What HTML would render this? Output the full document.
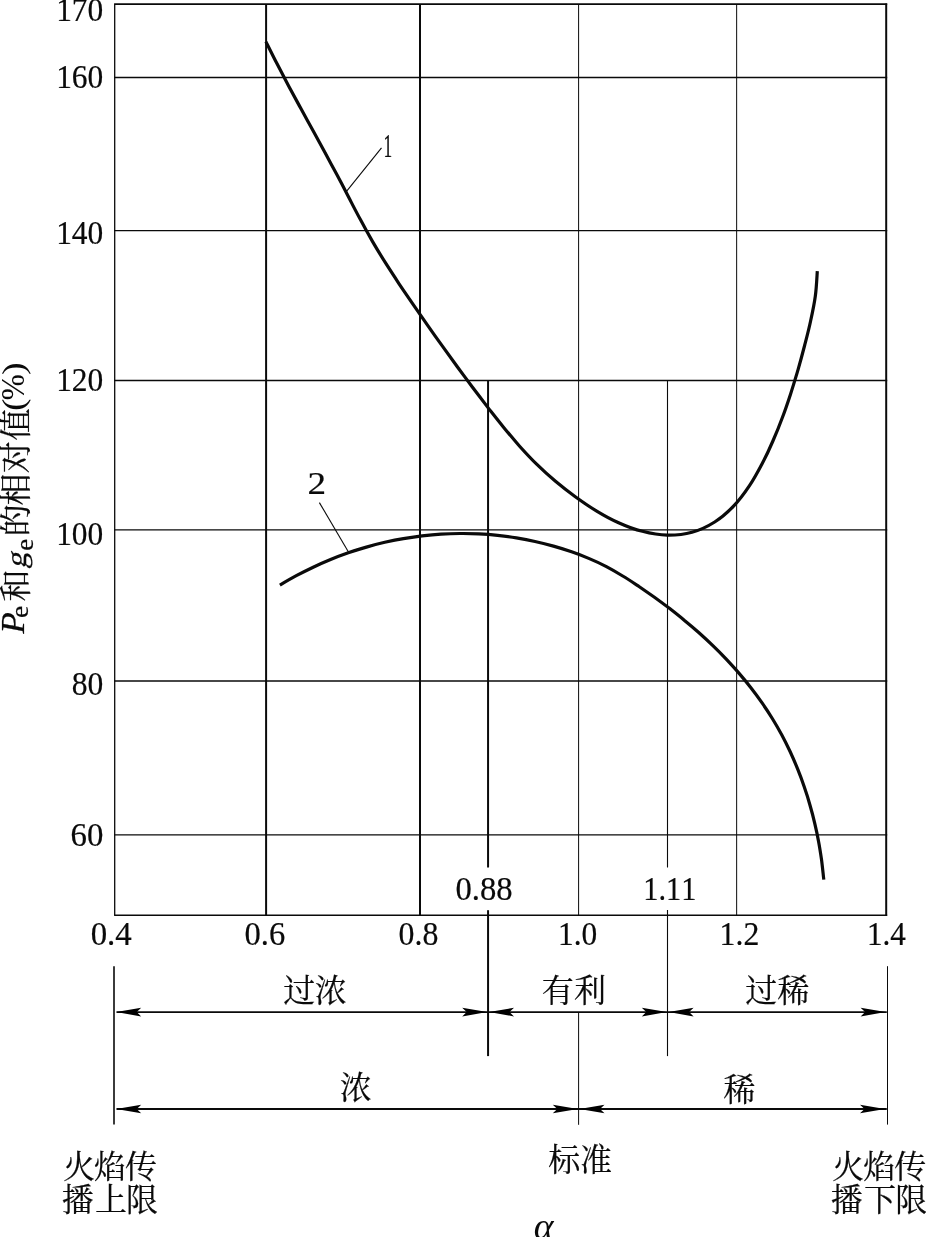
<!DOCTYPE html>
<html lang="zh-CN">
<head>
<meta charset="utf-8">
<title>Pe 和 ge 的相对值 — α</title>
<style>
html,body{margin:0;padding:0;background:#fff;}
body{width:926px;height:1237px;overflow:hidden;font-family:"Liberation Serif",serif;}
svg{display:block;position:absolute;left:0;top:0;will-change:transform;}
svg text{font-family:"Liberation Serif",serif;fill:#0a0a0a;font-kerning:none;stroke:#0a0a0a;stroke-width:0.22px;}
svg .ln path{stroke:#0a0a0a;fill:none;stroke-linecap:butt;}
svg text.ns{stroke-width:0;}
svg .cjk text{font-family:"Liberation Serif","Noto Serif CJK SC",serif;font-size:32px;fill:#0a0a0a;}
</style>
</head>
<body>
<svg width="926" height="1237" viewBox="0 0 926 1237">
<g class="ln">
<path d="M114.10 4.20L887.20 4.20" stroke-width="1.8"/>
<path d="M114.10 77.60L887.20 77.60" stroke-width="1.5"/>
<path d="M114.10 230.60L887.20 230.60" stroke-width="1.4"/>
<path d="M114.10 380.50L887.20 380.50" stroke-width="1.3"/>
<path d="M114.10 529.90L887.20 529.90" stroke-width="1.4"/>
<path d="M114.10 681.00L887.20 681.00" stroke-width="1.3"/>
<path d="M114.10 834.90L887.20 834.90" stroke-width="1.4"/>
<path d="M114.10 915.20L887.20 915.20" stroke-width="1.5"/>
<path d="M114.70 4.20L114.70 915.20" stroke-width="1.3"/>
<path d="M266.10 4.20L266.10 915.20" stroke-width="2.0"/>
<path d="M420.00 4.20L420.00 915.20" stroke-width="2.0"/>
<path d="M578.60 4.20L578.60 915.20" stroke-width="1.0"/>
<path d="M736.65 4.20L736.65 915.20" stroke-width="1.0"/>
<path d="M886.20 3.40L886.20 915.80" stroke-width="2.0"/>
<path d="M488.06 380.50L488.06 867.60" stroke-width="2.0"/>
<path d="M488.06 910.20L488.06 1056.10" stroke-width="2.0"/>
<path d="M667.50 380.50L667.50 867.60" stroke-width="1.1"/>
<path d="M667.50 910.00L667.50 1056.10" stroke-width="1.1"/>
<path d="M578.60 1012.30L578.60 1124.80" stroke-width="1.0"/>
<path d="M114.00 966.20L114.00 1124.50" stroke-width="1.6"/>
<path d="M887.50 966.20L887.50 1124.60" stroke-width="1.0"/>
<path d="M116.50 1012.10L886.80 1012.10" stroke-width="1.7"/>
<path d="M116.50 1109.00L886.80 1109.00" stroke-width="2.0"/>
<path d="M346.30 191.70L381.50 147.90" stroke-width="1.1"/>
<path d="M348.60 552.30L319.40 502.60" stroke-width="1.1"/>
</g>
<path d="M116.20 1012.10L141.20 1007.80L136.70 1012.10L141.20 1016.40Z" fill="#000" stroke="none"/>
<path d="M487.20 1012.10L462.20 1007.80L466.70 1012.10L462.20 1016.40Z" fill="#000" stroke="none"/>
<path d="M489.00 1012.10L514.00 1007.80L509.50 1012.10L514.00 1016.40Z" fill="#000" stroke="none"/>
<path d="M666.80 1012.10L641.80 1007.80L646.30 1012.10L641.80 1016.40Z" fill="#000" stroke="none"/>
<path d="M668.60 1012.10L693.60 1007.80L689.10 1012.10L693.60 1016.40Z" fill="#000" stroke="none"/>
<path d="M885.60 1012.10L860.60 1007.80L865.10 1012.10L860.60 1016.40Z" fill="#000" stroke="none"/>
<path d="M116.20 1109.00L141.20 1104.70L136.70 1109.00L141.20 1113.30Z" fill="#000" stroke="none"/>
<path d="M577.80 1109.00L552.80 1104.70L557.30 1109.00L552.80 1113.30Z" fill="#000" stroke="none"/>
<path d="M579.50 1109.00L604.50 1104.70L600.00 1109.00L604.50 1113.30Z" fill="#000" stroke="none"/>
<path d="M885.00 1109.00L860.00 1104.70L864.50 1109.00L860.00 1113.30Z" fill="#000" stroke="none"/>
<g class="ln">
<path d="M265.9 41.6C267.8 45.4 273.4 56.7 277.2 64.1C281.1 71.6 285.0 79.0 288.9 86.4C292.9 93.8 296.9 101.2 300.9 108.6C305.0 116.0 309.0 123.3 313.1 130.7C317.1 138.0 321.1 145.4 325.1 152.8C329.1 160.2 333.1 167.6 337.1 175.0C341.0 182.4 344.9 189.9 348.7 197.3C352.6 204.8 356.4 212.3 360.4 219.6C364.3 227.0 368.4 234.4 372.6 241.6C376.8 248.9 381.2 256.0 385.7 263.2C390.2 270.3 394.8 277.3 399.4 284.3C404.1 291.3 408.8 298.2 413.6 305.2C418.4 312.1 423.2 319.0 428.0 325.8C432.8 332.7 437.7 339.6 442.6 346.4C447.5 353.2 452.4 360.0 457.3 366.8C462.3 373.5 467.3 380.3 472.3 387.0C477.4 393.7 482.5 400.4 487.6 407.1C492.8 413.7 498.0 420.4 503.3 426.9C508.6 433.4 514.0 439.9 519.6 446.2C525.2 452.4 530.9 458.6 536.9 464.4C542.9 470.3 549.1 475.9 555.5 481.3C561.9 486.7 568.5 491.8 575.3 496.7C582.1 501.6 589.1 506.5 596.3 510.8C603.5 515.2 610.9 519.3 618.6 522.7C626.3 526.2 634.2 529.3 642.4 531.3C650.5 533.4 659.0 535.0 667.3 535.2C675.6 535.3 684.1 534.5 692.0 532.3C699.9 530.1 707.7 526.4 714.7 522.0C721.7 517.6 728.2 511.8 734.0 505.7C739.8 499.7 744.8 492.7 749.5 485.7C754.2 478.7 758.2 471.2 762.1 463.8C766.1 456.3 769.6 448.7 772.9 441.0C776.3 433.3 779.4 425.5 782.3 417.7C785.3 409.9 788.0 401.9 790.6 393.9C793.2 386.0 795.6 377.9 798.0 369.9C800.3 361.8 802.5 353.6 804.6 345.5C806.7 337.4 808.9 329.2 810.6 321.0C812.4 312.8 814.2 304.6 815.3 296.3C816.5 288.0 817.0 275.4 817.3 271.2" stroke-width="3.2"/>
<path d="M279.9 585.1C282.6 583.5 290.7 578.7 296.3 575.7C301.8 572.7 307.5 569.9 313.2 567.2C318.9 564.5 324.7 561.9 330.6 559.5C336.4 557.1 342.3 554.9 348.3 552.8C354.3 550.8 360.3 548.8 366.4 547.1C372.5 545.3 378.6 543.7 384.8 542.3C390.9 540.9 397.1 539.6 403.4 538.6C409.6 537.5 415.8 536.5 422.1 535.8C428.4 535.1 434.7 534.5 441.0 534.1C447.3 533.7 453.6 533.5 459.9 533.5C466.2 533.4 472.5 533.6 478.8 533.9C485.1 534.2 491.4 534.7 497.6 535.4C503.9 536.1 510.2 536.9 516.4 537.9C522.6 539.0 528.9 540.2 535.0 541.5C541.2 542.9 547.4 544.4 553.5 546.1C559.6 547.8 565.6 549.7 571.6 551.8C577.6 553.8 583.5 556.1 589.3 558.6C595.1 561.0 600.9 563.7 606.4 566.6C612.0 569.5 617.4 572.7 622.7 576.0C628.1 579.2 633.3 582.7 638.6 586.2C643.8 589.8 649.0 593.4 654.1 597.0C659.2 600.7 664.3 604.5 669.4 608.3C674.4 612.2 679.4 616.1 684.2 620.2C689.1 624.2 694.0 628.3 698.7 632.5C703.4 636.7 708.1 641.0 712.6 645.4C717.2 649.8 721.7 654.3 726.0 658.9C730.3 663.5 734.6 668.1 738.7 672.9C742.8 677.7 746.8 682.5 750.7 687.5C754.6 692.5 758.3 697.5 761.9 702.7C765.5 707.8 769.0 713.1 772.3 718.5C775.6 723.8 778.7 729.3 781.7 734.8C784.7 740.4 787.5 746.1 790.2 751.8C792.8 757.5 795.4 763.3 797.7 769.2C800.1 775.1 802.3 781.1 804.3 787.1C806.4 793.1 808.3 799.1 810.0 805.2C811.8 811.3 813.4 817.5 814.8 823.6C816.3 829.8 817.6 836.0 818.7 842.2C819.9 848.4 820.8 854.7 821.7 860.9C822.5 867.1 823.4 876.5 823.8 879.6" stroke-width="3.2"/>
</g>
<text transform="matrix(0.9346 0 0 1 56.14 21.27)" font-size="33.64">170</text>
<text transform="matrix(0.9388 0 0 1 56.14 88.17)" font-size="33.49">160</text>
<text transform="matrix(0.9557 0 0 1 56.14 243.98)" font-size="32.90">140</text>
<text transform="matrix(0.9472 0 0 1 56.14 390.68)" font-size="33.19">120</text>
<text transform="matrix(0.9305 0 0 1 56.14 544.77)" font-size="33.79">100</text>
<text transform="matrix(0.9355 0 0 1 71.70 694.77)" font-size="33.79">80</text>
<text transform="matrix(0.9769 0 0 1 70.49 845.57)" font-size="33.64">60</text>
<text transform="matrix(0.9854 0 0 1 90.65 945.43)" font-size="33.42">0.4</text>
<text transform="matrix(0.9702 0 0 1 244.56 945.22)" font-size="33.57">0.6</text>
<text transform="matrix(0.9533 0 0 1 398.59 945.43)" font-size="33.42">0.8</text>
<text transform="matrix(0.9397 0 0 1 558.04 945.43)" font-size="33.42">1.0</text>
<text transform="matrix(0.9573 0 0 1 719.61 945.13)" font-size="33.12">1.2</text>
<text transform="matrix(0.9501 0 0 1 866.96 944.84)" font-size="32.77">1.4</text>
<text transform="matrix(0.9760 0 0 1 455.46 900.33)" font-size="33.42">0.88</text>
<text transform="matrix(0.9132 0 0 1 643.23 900.03)" font-size="33.22">1.11</text>
<text transform="matrix(0.5199 0 0 1 383.58 156.50)" font-size="33.33">1</text>
<text transform="matrix(1.1393 0 0 1 307.57 494.40)" font-size="32.62">2</text>
<text transform="matrix(1.0098 0 0 1 533.78 1239.22)" font-size="37.35" font-style="italic" class="ns">α</text>
<text transform="matrix(0 -1.0481 1 0.0000 24.00 633.81)" font-size="33.75" font-style="italic">P</text>
<text transform="matrix(0 -1.0954 1 0.0000 27.85 618.08)" font-size="25.16">e</text>
<text transform="matrix(0 -1.0943 1 0.2189 25.86 568.64)" font-size="29.36">g</text>
<text transform="matrix(0 -1.0676 1 0.0000 32.76 550.84)" font-size="25.05">e</text>
<text transform="matrix(0 -1.1365 1 0.0000 24.14 410.71)" font-size="32.20" class="ns">(</text>
<text transform="matrix(0 -0.9464 1 0.0000 23.76 400.17)" font-size="33.03" class="ns">%</text>
<text transform="matrix(0 -1.1849 1 0.0000 24.14 374.93)" font-size="32.20" class="ns">)</text>
<g class="cjk">
<text transform="translate(27.25 601.62) rotate(-90)" x="0" y="0">和</text>
<text transform="translate(27.10 536.26) rotate(-90)" x="0 30.83 62.97 95.66" y="0">的相对值</text>
<text x="283.14 314.79" y="1002.2">过浓</text>
<text x="541.81 574.00" y="1002.2">有利</text>
<text x="745.36 777.54" y="1002.3">过稀</text>
<text x="339.67" y="1099.28">浓</text>
<text x="723.44" y="1100.55">稀</text>
<text x="548.23 580.05" y="1171.1">标准</text>
<text x="62.91 94.03 125.02" y="1178.1">火焰传</text>
<text x="61.63 95.12 126.01" y="1211.2">播上限</text>
<text x="832.11 863.23 894.22" y="1178.1">火焰传</text>
<text x="830.83 864.12 895.21" y="1211.2">播下限</text>
</g>
</svg>
</body>
</html>
